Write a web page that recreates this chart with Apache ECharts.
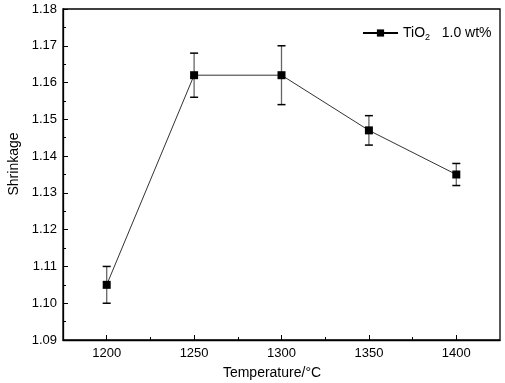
<!DOCTYPE html>
<html>
<head>
<meta charset="utf-8">
<script src="https://cdn.jsdelivr.net/npm/echarts@6/dist/echarts.min.js"></script>
<style>
  html, body { margin: 0; padding: 0; background: #fff; }
  #main { width: 505px; height: 383px; }
</style>
</head>
<body>
<div id="main"></div>
<script>
// data
var temps = [1200, 1250, 1300, 1350, 1400];
var shrink = [1.105, 1.162, 1.162, 1.147, 1.135];
var errLow = [1.100, 1.156, 1.154, 1.143, 1.132];
var errHigh = [1.110, 1.168, 1.170, 1.151, 1.138];
var majorX = [1200, 1250, 1300, 1350, 1400];
var minorX = [1225, 1275, 1325, 1375];

var font = 'Liberation Sans, Arial, sans-serif';

var lineData = temps.map(function (t, i) { return [t, shrink[i]]; });
var errData = temps.map(function (t, i) { return [t, errLow[i], errHigh[i]]; });

var option = {
  animation: false,
  backgroundColor: '#fff',
  grid: {
    left: 63, top: 9, right: 5, bottom: 43,
    show: true, borderColor: '#000', borderWidth: 1.3
  },
  graphic: [
    { type: 'text', x: 14, y: 164, rotation: Math.PI / 2,
      style: { text: 'Shrinkage', font: '14px ' + font, fill: '#000', align: 'center', verticalAlign: 'middle' } },
    { type: 'text', x: 272, y: 373,
      style: { text: 'Temperature/°C', font: '14px ' + font, fill: '#000', align: 'center', verticalAlign: 'middle' } }
  ],
  legend: {
    left: 357, top: 21,
    itemWidth: 35, itemHeight: 9, itemGap: 6,
    data: ['TiO2'],
    lineStyle: { width: 2, color: '#000' },
    formatter: function () { return 'TiO{sub|2}   1.0 wt%'; },
    textStyle: {
      fontFamily: font, fontSize: 14, color: '#000', padding: [0, 0, 0, 0],
      rich: { sub: { fontFamily: font, fontSize: 9, verticalAlign: 'bottom', padding: [9, 0, 0, 0] } }
    }
  },
  xAxis: [{
    type: 'value', min: 1175, max: 1425,
    axisLine: { lineStyle: { color: '#000', width: 1.3 } },
    axisTick: { inside: true, length: 5, customValues: majorX, lineStyle: { color: '#000' } },
    axisLabel: {
      customValues: majorX, margin: 7, fontFamily: font, fontSize: 13, color: '#000',
      formatter: function (v) { return String(v); }
    },
    splitLine: { show: false }
  }, {
    type: 'value', min: 1175, max: 1425, position: 'bottom',
    axisLine: { show: false },
    axisTick: { inside: true, length: 3, customValues: minorX, lineStyle: { color: '#000' } },
    axisLabel: { show: false },
    splitLine: { show: false }
  }],
  yAxis: {
    type: 'value', min: 1.09, max: 1.18, interval: 0.01,
    axisLine: { lineStyle: { color: '#000', width: 1.3 } },
    axisTick: { inside: true, length: 5, lineStyle: { color: '#000' } },
    minorTick: { show: true, splitNumber: 2, length: 3, lineStyle: { color: '#000' } },
    axisLabel: {
      margin: 6, fontFamily: font, fontSize: 13, color: '#000',
      formatter: function (v) { return v.toFixed(2); }
    },
    splitLine: { show: false }
  },
  series: [{
    name: 'TiO2',
    type: 'line',
    data: lineData,
    symbol: 'rect', symbolSize: 8,
    itemStyle: { color: '#000' },
    lineStyle: { color: '#333', width: 1 },
    z: 3
  }, {
    type: 'custom',
    data: errData,
    z: 2,
    renderItem: function (params, api) {
      var x = api.value(0);
      var lo = api.coord([x, api.value(1)]);
      var hi = api.coord([x, api.value(2)]);
      var w = 4;
      return {
        type: 'group',
        children: [
          { type: 'line', shape: { x1: lo[0], y1: lo[1], x2: hi[0], y2: hi[1] }, style: { stroke: '#666', lineWidth: 1.3 } },
          { type: 'line', shape: { x1: lo[0] - w, y1: lo[1], x2: lo[0] + w, y2: lo[1] }, style: { stroke: '#000', lineWidth: 1.5 } },
          { type: 'line', shape: { x1: hi[0] - w, y1: hi[1], x2: hi[0] + w, y2: hi[1] }, style: { stroke: '#000', lineWidth: 1.5 } }
        ]
      };
    }
  }]
};

var myChart = echarts.init(document.getElementById('main'));
myChart.setOption(option);
</script>
</body>
</html>
